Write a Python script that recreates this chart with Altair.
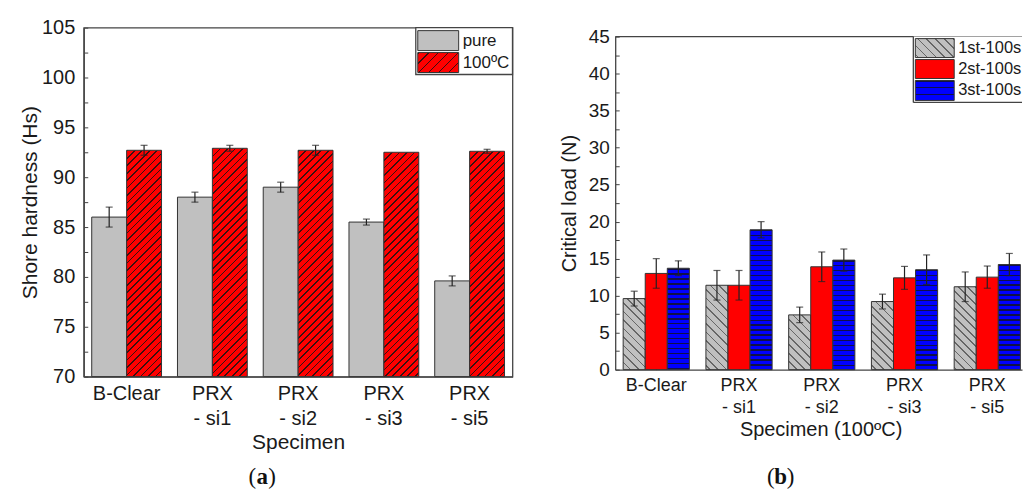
import altair as alt
import pandas as pd

# ---------------- data ----------------
categories = ["B-Clear", "PRX|- si1", "PRX|- si2", "PRX|- si3", "PRX|- si5"]

series_a = ["pure", "100ºC"]
pure_vals = [86.0, 88.0, 89.0, 85.5, 79.6]
pure_errs = [1.0, 0.5, 0.5, 0.3, 0.5]
hot_vals = [92.7, 92.9, 92.7, 92.5, 92.6]
hot_errs = [0.5, 0.3, 0.5, 0.0, 0.2]

series_b = ["1st-100s", "2st-100s", "3st-100s"]
first_vals = [9.6, 11.4, 7.4, 9.2, 11.2]
first_errs = [1.0, 2.0, 1.05, 1.0, 2.0]
second_vals = [13.0, 11.4, 13.9, 12.4, 12.5]
second_errs = [2.0, 2.0, 2.0, 1.55, 1.5]
third_vals = [13.7, 18.9, 14.8, 13.5, 14.2]
third_errs = [1.0, 1.1, 1.5, 2.0, 1.5]


def frame(series, vals_list, errs_list):
    rows = []
    for s, vals, errs in zip(series, vals_list, errs_list):
        for c, v, e in zip(categories, vals, errs):
            rows.append({"cat": c, "series": s, "value": v, "err": e,
                         "lo": v - e, "hi": v + e})
    return pd.DataFrame(rows)


df_a = frame(series_a, [pure_vals, hot_vals], [pure_errs, hot_errs])
df_b = frame(series_b, [first_vals, second_vals, third_vals],
             [first_errs, second_errs, third_errs])

# ---------------- style ----------------
FONT = "Liberation Sans"
SERIF = "Liberation Serif"
TXT = "#1a1a1a"
FRAME = "#444444"
EDGE = "#333333"
ERR = "#222222"
GRAY = "#c0c0c0"
RED = "#ff0000"
BLUE = "#0000ff"
HATCH = "#3a1010"
GHATCH = "#666666"
BSTRIPE = "#10104a"

WA, HA = 430, 350
WB, HB = 408, 334
A_PI, A_PO = 0.186, 0.093
B_PI, B_PO, B_ALIGN = 0.2, 0.058, 0.83

step_a = WA / (len(categories) - A_PI + 2 * A_PO)
bw_a = step_a * (1 - A_PI) / len(series_a)
step_b = WB / (len(categories) - B_PI + 2 * B_PO)
bw_b = step_b * (1 - B_PI) / len(series_b)

ONE = pd.DataFrame({"k": [0]})


def band_stops(total, period, line, bg, fg):
    stops = []
    k = 0
    while k * period < total:
        a = round(k * period / total, 5)
        b = round(min((k * period + line) / total, 1.0), 5)
        c = round(min((k + 1) * period / total, 1.0), 5)
        stops += [{"offset": a, "color": fg}, {"offset": b, "color": fg},
                  {"offset": b, "color": bg}, {"offset": c, "color": bg}]
        k += 1
    return stops


def diag_gradient(w, h, period, line, bg, fg, slant):
    k = (w + h) / (w * w + h * h)
    if slant == "/":
        x1, y1, x2, y2 = 0, 0, w * k, h * k
    else:
        x1, y1, x2, y2 = 1, 0, 1 - w * k, h * k
    return {"gradient": "linear", "x1": x1, "y1": y1, "x2": x2, "y2": y2,
            "stops": band_stops(w + h, period, line, bg, fg)}


def horiz_gradient(h, period, line, bg, fg):
    return {"gradient": "linear", "x1": 0, "y1": 0, "x2": 0, "y2": 1,
            "stops": band_stops(h, period, line, bg, fg)}


def pix_rect(x, x2, y, y2, **mk):
    return alt.Chart(ONE).mark_rect(**mk).encode(
        x=alt.value(x), x2=alt.value(x2), y=alt.value(y), y2=alt.value(y2))


def pix_rule(x, x2, y, y2, **mk):
    return alt.Chart(ONE).mark_rule(**mk).encode(
        x=alt.value(x), x2=alt.value(x2), y=alt.value(y), y2=alt.value(y2))


def pix_text(txt, x, y, **mk):
    return alt.Chart(ONE).mark_text(**mk).encode(
        x=alt.value(x), y=alt.value(y), text=alt.value(txt))


def caption(letter, cx, y):
    kw = dict(font=SERIF, fontSize=23, color="#111111", baseline="middle")
    return [pix_text("(", cx - 6, y, align="right", **kw),
            pix_text(letter, cx, y, align="center", fontWeight="bold", **kw),
            pix_text(")", cx + 6, y, align="left", **kw)]


# ---------------- panel (a) ----------------
XA = alt.X("cat:N", sort=categories,
           scale=alt.Scale(domain=categories, paddingInner=A_PI, paddingOuter=A_PO),
           axis=alt.Axis(title="Specimen", labelExpr="split(datum.label, '|')",
                         labelAngle=0, labelFontSize=20, labelLineHeight=25,
                         labelPadding=7, ticks=False, titleFontSize=21,
                         titleX=WA / 2, titleY=66, titleAlign="center",
                         titleBaseline="middle", domainColor=FRAME, domainWidth=1.3))
XOA = alt.XOffset("series:N", sort=series_a, scale=alt.Scale(domain=series_a))
ya_scale = alt.Scale(domain=[70, 105], nice=False, zero=False)
y_axis_a = alt.Axis(title="Shore hardness (Hs)",
                    values=[70 + 2.5 * i for i in range(15)],
                    labelExpr="datum.value % 5 === 0 ? datum.label : ''",
                    labelFontSize=20, labelPadding=13, labelOverlap=False,
                    tickSize=alt.ExprRef(expr="-4"), tickColor=FRAME,
                    titleFontSize=21, titleX=-53, titleY=HA / 2, titleAlign="center",
                    titleBaseline="middle", grid=False, domainColor=FRAME,
                    domainWidth=1.3)
BASE_A = alt.datum(70)

layers_a = [pix_rect(-83, 941, -26, 466, fill="white", fillOpacity=0)]
layers_a.append(
    alt.Chart(df_a[df_a.series == series_a[0]]).mark_bar(
        fill=GRAY, stroke=EDGE, strokeWidth=1).encode(
        x=XA, xOffset=XOA, y=alt.Y("value:Q", scale=ya_scale, axis=y_axis_a),
        y2=BASE_A))
hot_rows = df_a[df_a.series == series_a[1]]
for idx in hot_rows.index:
    v = df_a.loc[idx, "value"]
    h = (v - 70) * HA / 35
    layers_a.append(
        alt.Chart(df_a.loc[[idx]]).mark_bar(
            fill=diag_gradient(bw_a, h, 7.5, 1.7, RED, HATCH, "/"),
            stroke=EDGE, strokeWidth=1).encode(
            x=XA, xOffset=XOA, y=alt.Y("value:Q", scale=ya_scale, axis=y_axis_a),
            y2=BASE_A))

err_a = df_a[df_a.err > 0]
layers_a.append(alt.Chart(err_a).mark_rule(color=ERR, strokeWidth=1.2).encode(
    x=XA, xOffset=XOA, y=alt.Y("lo:Q", scale=ya_scale, axis=y_axis_a), y2="hi:Q"))
for f in ["lo", "hi"]:
    layers_a.append(alt.Chart(err_a).mark_tick(
        color=ERR, thickness=1.2, size=7, orient="horizontal").encode(
        x=XA, xOffset=XOA, y=alt.Y(f + ":Q", scale=ya_scale, axis=y_axis_a)))

# legend (a)
layers_a += [
    pix_rect(333, WA, 0, 47, fill="white", stroke=FRAME, strokeWidth=1.3),
    pix_rect(335, 376, 3, 23, fill=GRAY, stroke=EDGE, strokeWidth=1),
    pix_rect(335, 376, 25, 45, fill=diag_gradient(41, 20, 10, 1.7, RED, HATCH, "/"),
             stroke=EDGE, strokeWidth=1),
    pix_text(series_a[0], 380, 13, align="left", baseline="middle",
             fontSize=17, font=FONT, color=TXT),
    pix_text(series_a[1], 380, 35, align="left", baseline="middle",
             fontSize=17, font=FONT, color=TXT),
]
layers_a += caption("a", 179, 451)

panel_a = alt.layer(*layers_a).properties(
    width=WA, height=HA, view=alt.ViewBackground(stroke=FRAME, strokeWidth=1.3))

# ---------------- panel (b) ----------------
XB = alt.X("cat:N", sort=categories,
           scale=alt.Scale(domain=categories, paddingInner=B_PI,
                           paddingOuter=B_PO, align=B_ALIGN),
           axis=alt.Axis(title="Specimen (100ºC)", labelExpr="split(datum.label, '|')",
                         labelAngle=0, labelFontSize=18, labelLineHeight=22.5,
                         labelPadding=11, tickSize=alt.ExprRef(expr="-4"),
                         tickColor=FRAME, titleFontSize=20, titleX=206, titleY=60,
                         titleAlign="center", titleBaseline="middle",
                         domainColor=FRAME, domainWidth=1.3))
XOB = alt.XOffset("series:N", sort=series_b, scale=alt.Scale(domain=series_b))
yb_scale = alt.Scale(domain=[0, 45], nice=False)
y_axis_b = alt.Axis(title="Critical load (N)",
                    values=[2.5 * i for i in range(19)],
                    labelExpr="datum.value % 5 === 0 ? datum.label : ''",
                    labelFontSize=19, labelPadding=10, labelOverlap=False,
                    tickSize=alt.ExprRef(expr="-4"), tickColor=FRAME,
                    titleFontSize=20, titleX=-46, titleY=HB / 2, titleAlign="center",
                    titleBaseline="middle", grid=False, domainColor=FRAME,
                    domainWidth=1.3)

layers_b = [pix_rule(0, WB, 0, 0, color=FRAME, strokeWidth=1.3)]
for idx in df_b[df_b.series == series_b[0]].index:
    h = df_b.loc[idx, "value"] * HB / 45
    layers_b.append(
        alt.Chart(df_b.loc[[idx]]).mark_bar(
            fill=diag_gradient(bw_b, h, 8.5, 1.7, GRAY, GHATCH, "\\"),
            stroke=EDGE, strokeWidth=1).encode(
            x=XB, xOffset=XOB, y=alt.Y("value:Q", scale=yb_scale, axis=y_axis_b)))
layers_b.append(
    alt.Chart(df_b[df_b.series == series_b[1]]).mark_bar(
        fill=RED, stroke=EDGE, strokeWidth=1).encode(
        x=XB, xOffset=XOB, y=alt.Y("value:Q", scale=yb_scale, axis=y_axis_b)))
for idx in df_b[df_b.series == series_b[2]].index:
    h = df_b.loc[idx, "value"] * HB / 45
    layers_b.append(
        alt.Chart(df_b.loc[[idx]]).mark_bar(
            fill=horiz_gradient(h, 5.0, 1.4, BLUE, BSTRIPE),
            stroke=EDGE, strokeWidth=1).encode(
            x=XB, xOffset=XOB, y=alt.Y("value:Q", scale=yb_scale, axis=y_axis_b)))

err_b = df_b[df_b.err > 0]
layers_b.append(alt.Chart(err_b).mark_rule(color=ERR, strokeWidth=1.2).encode(
    x=XB, xOffset=XOB, y=alt.Y("lo:Q", scale=yb_scale, axis=y_axis_b), y2="hi:Q"))
for f in ["lo", "hi"]:
    layers_b.append(alt.Chart(err_b).mark_tick(
        color=ERR, thickness=1.2, size=7, orient="horizontal").encode(
        x=XB, xOffset=XOB, y=alt.Y(f + ":Q", scale=yb_scale, axis=y_axis_b)))

# legend (b)
layers_b += [
    pix_rect(299, WB, 0, 66, fill="white"),
    pix_rule(299, 299, 0, 66, color=FRAME, strokeWidth=1.3),
    pix_rule(299, WB, 66, 66, color=FRAME, strokeWidth=1.3),
    pix_rect(301, 340, 2, 21, fill=diag_gradient(39, 19, 9, 1.7, GRAY, GHATCH, "\\"),
             stroke=EDGE, strokeWidth=1),
    pix_rect(301, 340, 23, 42, fill=RED, stroke=EDGE, strokeWidth=1),
    pix_rect(301, 340, 44, 64, fill=horiz_gradient(20, 6.6, 1.4, BLUE, BSTRIPE),
             stroke=EDGE, strokeWidth=1),
]
for s, yy in zip(series_b, [11.5, 32.5, 54]):
    layers_b.append(pix_text(s, 344, yy, align="left", baseline="middle", fontSize=16.5,
                             font=FONT, color=TXT, limit=WB - 344,
                             ellipsis="\u200b"))
layers_b += caption("b", 166, 442)

panel_b = alt.layer(*layers_b).properties(
    width=WB, height=HB, view=alt.ViewBackground(stroke="transparent"))

spacer = alt.Chart(ONE).mark_point(opacity=0).encode(
    x=alt.value(0), y=alt.value(0)).properties(
    width=WB, height=9, view=alt.ViewBackground(stroke="transparent"))

right_col = alt.vconcat(spacer, panel_b, spacing=0, bounds="flush")

chart = alt.hconcat(panel_a, right_col, spacing=103, bounds="flush").resolve_scale(
    x="independent", y="independent", xOffset="independent"
).properties(
    padding={"left": 0, "top": 0, "right": 0, "bottom": 0},
    background="white",
).configure(font=FONT).configure_axis(
    labelFont=FONT, titleFont=FONT, labelColor=TXT, titleColor=TXT,
    titleFontWeight="normal",
).configure_view(stroke=FRAME, strokeWidth=1.3)

chart.save("out.html", embed_options={"renderer": "svg", "actions": False})
